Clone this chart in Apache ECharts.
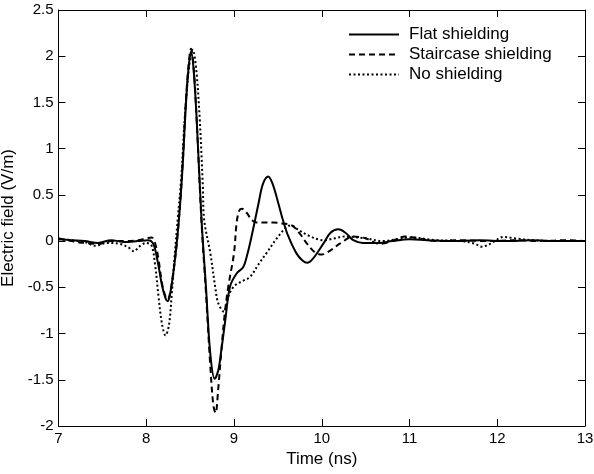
<!DOCTYPE html>
<html>
<head>
<meta charset="utf-8">
<script src="https://cdn.jsdelivr.net/npm/echarts@6/dist/echarts.min.js"></script>
<style>html,body{margin:0;padding:0;background:#fff;}#c{width:594px;height:474px;}</style>
</head>
<body>
<div id="c"></div>
<script>
var seriesNames = ['Flat shielding', 'Staircase shielding', 'No shielding'];
var xTicks = [7, 8, 9, 10, 11, 12, 13];
var yTicks = [-2, -1.5, -1, -0.5, 0, 0.5, 1, 1.5, 2, 2.5];

var flatT = [7.00,7.15,7.30,7.45,7.60,7.75,7.90,8.02,8.08,8.13,8.18,8.22,8.245,8.27,8.30,8.33,8.36,8.39,8.42,8.45,8.48,8.51,8.54,8.575,8.63,8.68,8.73,8.78,8.82,8.85,8.90,8.955,9.03,9.106,9.15,9.20,9.28,9.33,9.39,9.44,9.505,9.56,9.62,9.71,9.78,9.835,9.90,10.02,10.10,10.19,10.27,10.36,10.47,10.66,10.80,11.00,11.20,11.50,11.80,12.10,12.40,12.70,13.00];
var flatV = [0.02,0.01,0.00,-0.02,0.01,-0.01,0.00,0.01,-0.03,-0.22,-0.48,-0.62,-0.65,-0.58,-0.40,-0.18,0.10,0.45,0.90,1.45,1.85,2.05,1.85,1.31,0.23,-0.49,-1.22,-1.49,-1.40,-1.22,-0.86,-0.49,-0.35,-0.28,-0.15,0.05,0.41,0.62,0.70,0.62,0.41,0.22,0.05,-0.13,-0.21,-0.235,-0.19,-0.025,0.09,0.127,0.09,0.01,-0.02,-0.02,0.00,0.02,0.01,0.00,0.01,0.00,0.01,0.00,0.00];

var stairT = [7.00,7.15,7.30,7.45,7.60,7.75,7.90,8.00,8.06,8.10,8.14,8.18,8.22,8.245,8.27,8.30,8.33,8.36,8.39,8.42,8.45,8.48,8.51,8.54,8.575,8.63,8.68,8.73,8.765,8.79,8.82,8.86,8.895,8.935,9.00,9.03,9.06,9.09,9.15,9.20,9.26,9.35,9.45,9.55,9.66,9.75,9.83,9.92,10.00,10.10,10.21,10.36,10.50,10.66,10.80,10.95,11.10,11.30,11.60,11.90,12.20,12.50,12.80,13.00];
var stairV = [0.03,0.00,-0.02,-0.03,0.00,0.00,0.01,0.03,0.04,-0.02,-0.20,-0.46,-0.60,-0.63,-0.57,-0.40,-0.18,0.10,0.46,0.92,1.48,1.88,2.08,1.88,1.30,0.20,-0.55,-1.35,-1.78,-1.86,-1.60,-1.14,-0.78,-0.49,-0.13,0.20,0.33,0.35,0.30,0.23,0.20,0.20,0.20,0.19,0.17,0.08,-0.025,-0.12,-0.145,-0.10,-0.025,0.05,0.03,-0.03,0.00,0.05,0.03,0.00,0.01,0.00,0.01,0.00,0.01,0.00];

var noT = [7.00,7.15,7.30,7.42,7.55,7.70,7.80,7.86,7.92,8.00,8.06,8.10,8.14,8.18,8.22,8.26,8.29,8.32,8.36,8.40,8.44,8.49,8.53,8.57,8.61,8.645,8.66,8.73,8.785,8.82,8.886,8.935,9.00,9.10,9.18,9.28,9.37,9.48,9.60,9.65,9.72,9.85,10.02,10.15,10.26,10.50,10.70,10.85,11.00,11.30,11.60,11.75,11.82,11.90,11.97,12.07,12.20,12.40,12.70,13.00];
var noV = [0.02,0.01,-0.01,-0.05,-0.02,-0.03,-0.07,-0.11,-0.06,-0.02,-0.05,-0.25,-0.60,-0.90,-1.02,-0.90,-0.58,-0.20,0.25,0.70,1.35,1.90,2.07,1.85,1.31,0.59,0.23,-0.13,-0.49,-0.67,-0.765,-0.60,-0.49,-0.43,-0.39,-0.25,-0.13,0.02,0.155,0.17,0.13,0.06,0.01,0.03,0.05,0.03,0.00,0.02,0.04,0.01,0.00,-0.03,-0.06,-0.04,0.00,0.045,0.03,0.01,0.00,0.00];

function pairs(t, v) { return t.map(function (x, i) { return [x, v[i]]; }); }

var FONT = '"Liberation Sans", Arial, sans-serif';
var chart = echarts.init(document.getElementById('c'), null, {renderer: 'canvas'});

var baseAxis = {
  axisLine: {show: true, onZero: false, lineStyle: {color: '#000', width: 1}},
  axisTick: {show: true, inside: true, length: 7, lineStyle: {color: '#000'}},
  splitLine: {show: false}
};

chart.setOption({
  animation: false,
  backgroundColor: '#fff',
  grid: {left: 58.5, right: 9, top: 10, bottom: 48, containLabel: false, outerBoundsMode: 'none'},
  legend: {
    orient: 'vertical', left: 343, top: 21, itemWidth: 50, itemHeight: 14, itemGap: 3,
    itemStyle: {opacity: 0},
    textStyle: {fontFamily: FONT, fontSize: 17, color: '#000', padding: [0, 0, 0, 5]},
    data: seriesNames
  },
  xAxis: [
    Object.assign({}, baseAxis, {
      type: 'value', min: xTicks[0], max: xTicks[xTicks.length - 1], interval: 1,
      name: 'Time (ns)', nameLocation: 'middle', nameGap: 18,
      nameTextStyle: {fontFamily: FONT, fontSize: 17, color: '#000'},
      axisLabel: {fontFamily: FONT, fontSize: 15, color: '#000', margin: 5}
    }),
    Object.assign({}, baseAxis, {
      type: 'value', position: 'top', min: xTicks[0], max: xTicks[xTicks.length - 1], interval: 1,
      axisLabel: {show: false}
    })
  ],
  yAxis: [
    Object.assign({}, baseAxis, {
      type: 'value', min: yTicks[0], max: yTicks[yTicks.length - 1], interval: 0.5,
      name: 'Electric field (V/m)', nameLocation: 'middle', nameGap: 36,
      nameTextStyle: {fontFamily: FONT, fontSize: 17, color: '#000'},
      axisLabel: {fontFamily: FONT, fontSize: 15, color: '#000', margin: 5}
    }),
    Object.assign({}, baseAxis, {
      type: 'value', position: 'right', min: yTicks[0], max: yTicks[yTicks.length - 1], interval: 0.5,
      axisLabel: {show: false}
    })
  ],
  series: [
    {name: seriesNames[0], type: 'line', data: pairs(flatT, flatV), showSymbol: false, symbol: 'none', smooth: 0.35,
     lineStyle: {color: '#000', width: 2, type: 'solid'}, itemStyle: {color: '#000'}},
    {name: seriesNames[1], type: 'line', data: pairs(stairT, stairV), showSymbol: false, symbol: 'none', smooth: 0.35,
     lineStyle: {color: '#000', width: 2, type: [6, 4]}, itemStyle: {color: '#000'}},
    {name: seriesNames[2], type: 'line', data: pairs(noT, noV), showSymbol: false, symbol: 'none', smooth: 0.35,
     lineStyle: {color: '#000', width: 2, type: [2, 2.5]}, itemStyle: {color: '#000'}}
  ]
});
</script>
</body>
</html>
